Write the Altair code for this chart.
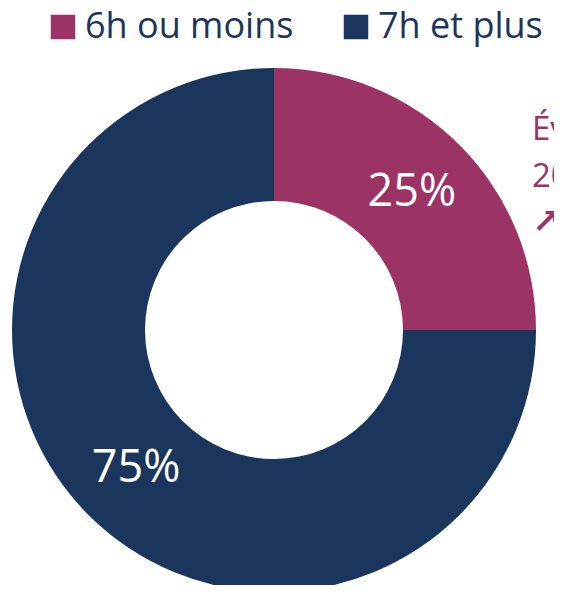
import altair as alt
import pandas as pd

categories = ["6h ou moins", "7h et plus"]
values = [25, 75]
labels = ["25%", "75%"]
colors = ["#9B3465", "#1B365D"]
note_lines = ["Év", "20", "↗"]

df = pd.DataFrame({"cat": categories, "val": values, "lab": labels, "ord": [0, 1]})

cx, cy = 266, 322

base = alt.Chart(df).encode(
    theta=alt.Theta("val:Q", stack=True),
    order=alt.Order("ord:Q"),
)

arcs = base.mark_arc(outerRadius=262, innerRadius=129, x=cx, y=cy).encode(
    color=alt.Color(
        "cat:N",
        scale=alt.Scale(domain=categories, range=colors),
        legend=alt.Legend(
            title=None,
            orient="none",
            legendX=37,
            legendY=1,
            direction="horizontal",
            symbolType="square",
            symbolSize=600,
            symbolStrokeWidth=0,
            symbolOpacity=1,
            labelFontSize=36,
            labelFont="Open Sans",
            labelColor="#1B365D",
            labelLimit=0,
            columnPadding=44,
            labelOffset=4,
            symbolOffset=0,
        ),
    )
)

txt = base.mark_text(radius=195, x=cx, y=cy, fontSize=45, font="Open Sans", color="white").encode(
    text="lab:N"
)

ndf = pd.DataFrame({"t": note_lines, "i": [0, 1, 2]})
ybase = alt.Y("i:Q", axis=None, scale=alt.Scale(domain=[0, 2], range=[122, 215], nice=False, zero=False))
note_base = alt.Chart(ndf).encode(x=alt.value(524), y=ybase, text="t:N")
note_txt = note_base.transform_filter("datum.i < 2").mark_text(
    align="left", baseline="middle", fontSize=33, font="Open Sans", color="#9B3465"
)
note_arrow = note_base.transform_filter("datum.i == 2").mark_text(
    align="left", baseline="middle", fontSize=34, font="DejaVu Sans", fontWeight="bold", color="#9B3465"
)

chart = alt.layer(arcs, txt, note_txt, note_arrow).properties(
    width=546, height=577, autosize=alt.AutoSizeParams(type="none"), padding=0
).configure_view(stroke=None)

chart.save("out.html", embed_options={"renderer": "svg", "actions": False})
